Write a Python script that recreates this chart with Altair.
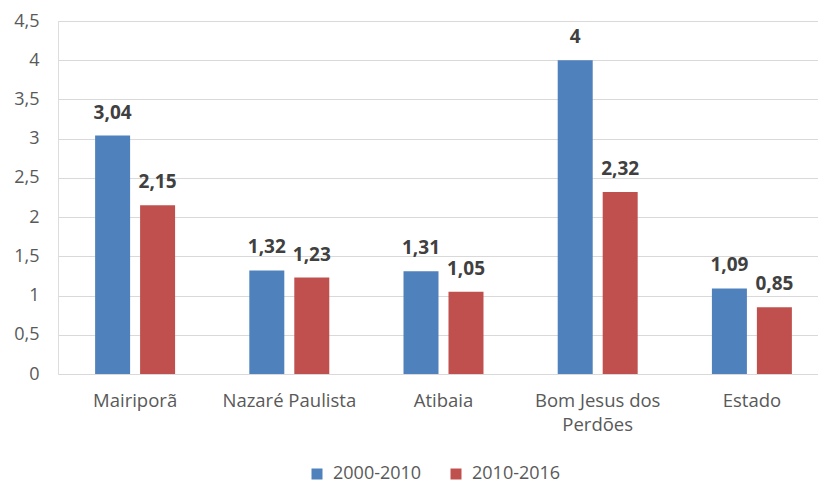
import altair as alt
import pandas as pd

categories = ["Mairiporã", "Nazaré Paulista", "Atibaia", "Bom Jesus dos Perdões", "Estado"]
series = ["2000-2010", "2010-2016"]
v_2000_2010 = [3.04, 1.32, 1.31, 4.0, 1.09]
v_2010_2016 = [2.15, 1.23, 1.05, 2.32, 0.85]
y_ticks = [0, 0.5, 1, 1.5, 2, 2.5, 3, 3.5, 4, 4.5]

rows = []
for i, c in enumerate(categories):
    rows.append({"cat": c, "serie": series[0], "val": v_2000_2010[i]})
    rows.append({"cat": c, "serie": series[1], "val": v_2010_2016[i]})
df = pd.DataFrame(rows)

FONT = "Open Sans"
GRAY = "#595959"

x = alt.X("cat:N", sort=categories, title=None,
          scale=alt.Scale(paddingInner=0, paddingOuter=0, range=[0, 771]),
          axis=alt.Axis(labelAngle=0, ticks=False, domain=False, labelFont=FONT,
                        labelFontSize=18.5, labelColor=GRAY, labelPadding=17,
                        labelLineHeight=24,
                        labelExpr="datum.value == 'Bom Jesus dos Perdões' ? ['Bom Jesus dos', 'Perdões'] : datum.value"))
xo = alt.XOffset("serie:N", sort=series,
                 scale=alt.Scale(paddingInner=0.222, paddingOuter=0.825))
y = alt.Y("val:Q", title=None,
          scale=alt.Scale(domain=[0, 4.5], nice=False),
          axis=alt.Axis(values=y_ticks, ticks=False, domain=False, labelFont=FONT,
                        labelFontSize=18, labelColor=GRAY, labelPadding=19,
                        gridColor="#d9d9d9", gridWidth=1,
                        labelExpr="replace(toString(datum.value), '.', ',')"))
color = alt.Color("serie:N", sort=series,
                  scale=alt.Scale(domain=series, range=["#4F81BD", "#C0504D"]),
                  legend=alt.Legend(title=None, orient="none", direction="horizontal",
                                    legendX=250, legendY=444, symbolType="square",
                                    symbolSize=121, symbolStrokeWidth=0,
                                    labelFont=FONT, labelFontSize=18, labelOffset=7,
                                    labelColor=GRAY, columnPadding=25))

bars = alt.Chart(df).mark_bar().encode(x=x, xOffset=xo, y=y, color=color)

labels = alt.Chart(df).transform_calculate(
    lbl="replace(format(datum.val, '.2~f'), '.', ',')"
).mark_text(font=FONT, fontSize=19, fontWeight="bold", color="#404040",
            baseline="middle", dy=-23).encode(x=x, xOffset=xo, y=y, text="lbl:N")

chart = (bars + labels).properties(
    width=760, height=353,
    autosize=alt.AutoSizeParams(type="none"),
    padding={"left": 50, "top": 13, "right": 0, "bottom": 114},
).configure_view(stroke=None).configure(background="white")

chart.save("out.html", embed_options={"renderer": "svg", "actions": False})
